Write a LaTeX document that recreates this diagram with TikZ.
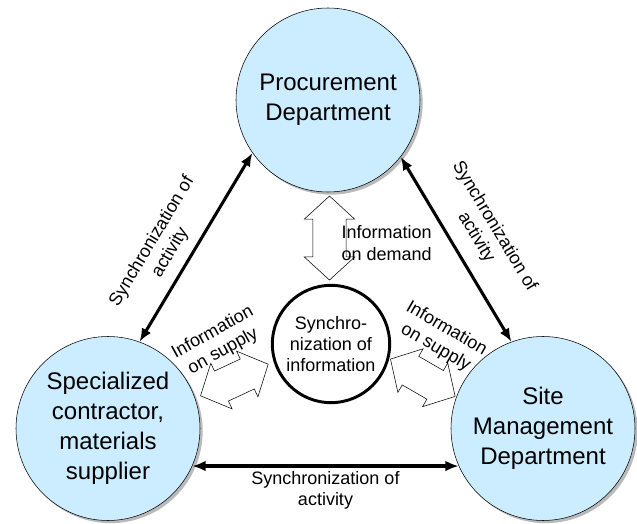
\documentclass[tikz,border=0pt]{standalone}
\usepackage{fontspec}
\setmainfont{Liberation Sans}
\usetikzlibrary{arrows.meta, calc, shapes.arrows, shadows, positioning}
\definecolor{deptblue}{RGB}{204,236,255}

\begin{document}
\begin{tikzpicture} [
        x = 0.75pt, y = -0.75pt,
        dept/.style = { draw, circle, fill = deptblue, minimum size = 138pt, inner sep = 0, align = center,
                font = \fontsize{18}{22.5}\selectfont,
                drop shadow={shadow xshift=2pt,shadow yshift=-2pt,fill=black!45,opacity=0.6} },
        core/.style = { draw, circle, fill = white, line width = 2.2pt, minimum size = 88pt, inner sep = 0, align = center,
                font = \fontsize{13.5}{16}\selectfont },
        sync/.style = { {Latex[length=10pt,width=8pt]}-{Latex[length=10pt,width=8pt]}, line width = 2.3pt },
        info/.style = { draw, fill = white, double arrow, double arrow head extend = 6.5pt, double arrow tip angle = 95,
                inner xsep = 0, inner ysep = 12.2pt, minimum height = 56pt },
        lbl/.style = { align = center, font = \fontsize{13.5}{16}\selectfont, inner sep = 1pt }
        ]

        \useasboundingbox (0,0) rectangle (637,524);

        \node [dept] (proc) at (328,100) {Procurement\\Department};
        \node [dept] (spec) at (108,428.5) {Specialized\\contractor,\\materials\\supplier};
        \node [dept] (site) at (543,428.5) {Site\\Management\\Department};
        \node [core] (sync) at (331,344) {Synchro-\\nization of\\information};

        \draw [sync] (spec.70) -- (proc.215)
            node [lbl, pos = 0.42, sloped, above = 6pt] {Synchronization of\\activity};
        \draw [sync] (proc.322) -- (site.110)
            node [lbl, midway, sloped, above = 9pt] {Synchronization of\\activity};
        \draw [sync] (spec.-24) -- (site.204)
            node [lbl, midway, below = 2pt] {Synchronization of\\activity};

        \node [info, rotate = 90, minimum height = 63pt] (demand) at ($(proc.south)!0.5!(sync.north)$) {};
        \node [info, rotate = 25] (supplyl) at ($(spec.19)!0.5!(sync.197)$) {};
        \node [info, rotate = -30] (supplyr) at ($(sync.346)!0.5!(site.160)$) {};

        \node [lbl, anchor = west] (demandtxt) at (340,243) {Information\\on demand};
        \node [lbl, rotate = 29] (supplyltxt) at (218,342) {Information\\on supply};
        \node [lbl, rotate = -30] (supplyrtxt) at (441,338) {Information\\on supply};
    \end{tikzpicture}
\end{document}
